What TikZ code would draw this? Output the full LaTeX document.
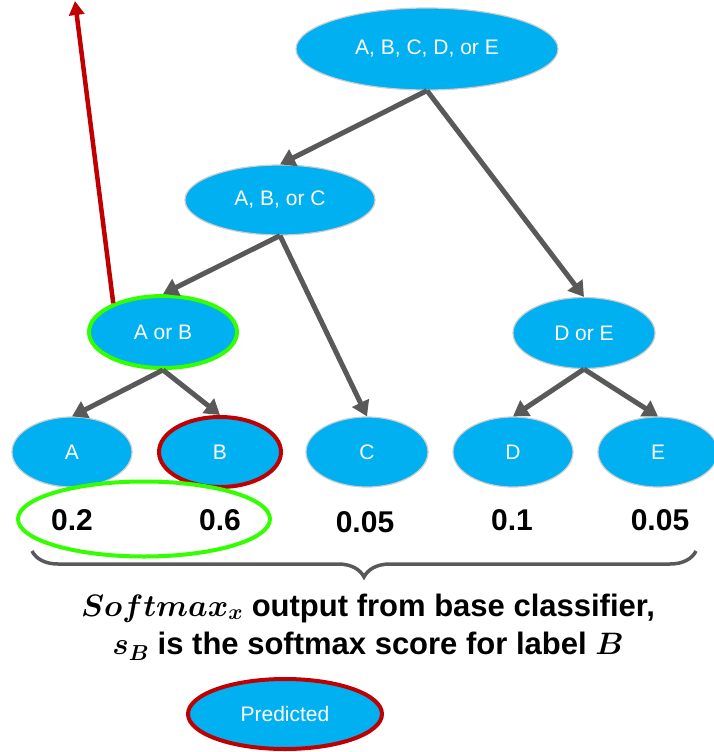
\documentclass[tikz,border=0pt]{standalone}
\usepackage{fontspec}
\setmainfont{Liberation Sans}
\DeclareFontShape{OML}{cmm}{m}{it}{<->cmmi10}{}
\DeclareFontShape{OML}{cmm}{b}{it}{<->cmmib10}{}
\usetikzlibrary{shapes.geometric,arrows.meta,decorations.pathreplacing}
\definecolor{skyblue}{HTML}{00B0F0}
\definecolor{arrowgray}{HTML}{595959}
\definecolor{darkred}{HTML}{C00000}
\definecolor{lime}{HTML}{33FF00}
\begin{document}
\begin{tikzpicture}[x=1pt, y=-1pt,
  class/.style={ellipse, fill=skyblue, draw=black!20, line width=1.2pt, inner sep=0pt,
    text=white, font=\fontsize{21}{25}\selectfont},
  chosen/.style={draw=lime, line width=4pt},
  predicted/.style={draw=darkred, line width=4pt},
  link/.style={arrowgray, line width=5pt, -{Triangle[length=15pt,width=18pt]}},
  score/.style={font=\fontsize{30}{36}\selectfont\bfseries}]
\useasboundingbox (0,0) rectangle (713,752);
% tree of labels
\node[class, minimum width=262pt, minimum height=82pt] (top) at (427,49) {A, B, C, D, or E};
\node[class, minimum width=190pt, minimum height=70pt] (abc) at (280,200) {A, B, or C};
\node[class, chosen, minimum width=148pt, minimum height=72pt] (ab) at (163,332) {A or B};
\node[class, minimum width=142pt, minimum height=71pt] (de) at (584,333) {D or E};
\node[class, minimum width=120pt, minimum height=70pt] (a) at (72,452) {A};
\node[class, predicted, minimum width=122pt, minimum height=70pt] (b) at (220,452) {B};
\node[class, minimum width=122pt, minimum height=70pt] (c) at (367,452) {C};
\node[class, minimum width=120pt, minimum height=70pt] (d) at (513,452) {D};
\node[class, minimum width=120pt, minimum height=70pt] (e) at (658,452) {E};
\draw[link] (top.south) -- (abc.north);
\draw[link] (top.south) -- (de.north);
\draw[link] (abc.south) -- (ab.north);
\draw[link] (abc.south) -- (c.north);
\draw[link] (ab.south) -- (a.north);
\draw[link] (ab.south) -- (b.north);
\draw[link] (de.south) -- (d.north);
\draw[link] (de.south) -- (e.north);
% softmax scores
\node[score] (sa) at (72,520) {0.2};
\node[score] (sb) at (220,520) {0.6};
\node[score] (sc) at (365,522) {0.05};
\node[score] (sd) at (512,520) {0.1};
\node[score] (se) at (660,520) {0.05};
\node[ellipse, chosen, minimum width=252pt, minimum height=75pt] (ring) at (144,519) {};
\coordinate (braceL) at (32,551);
\coordinate (braceR) at (696,551);
\draw[arrowgray, line width=3.5pt, decorate, decoration={brace, mirror, amplitude=26pt}] (braceL) -- (braceR);
\node[font=\fontsize{31}{38}\selectfont\bfseries\boldmath, align=center] (caption) at (368,627)
  {$Softmax_x$ output from base classifier,\\ $s_B$ is the softmax score for label $B$};
% legend and back edge
\node[class, predicted, minimum width=194pt, minimum height=70pt] (pred) at (285,714) {Predicted};
\coordinate (up) at (75,1);
\draw[darkred, line width=4.5pt, -{Triangle[length=14pt,width=15pt]}] (ab.150) -- (up);
\end{tikzpicture}
\end{document}
